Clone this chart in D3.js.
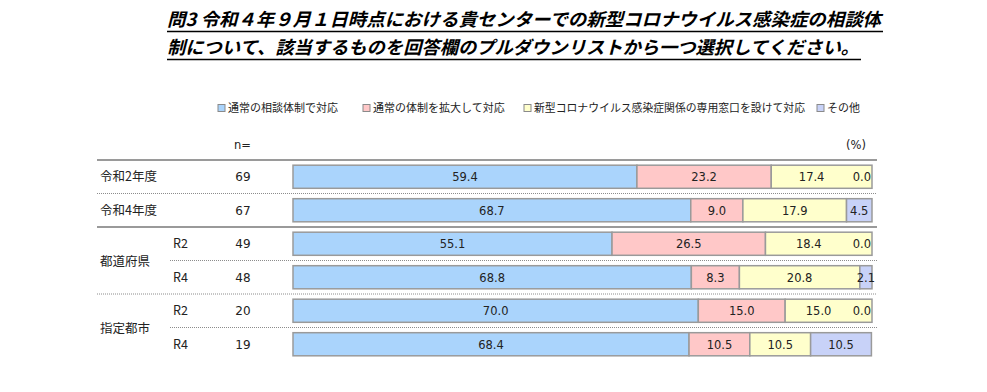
<!DOCTYPE html>
<html><head><meta charset="utf-8">
<script src="https://cdn.jsdelivr.net/npm/d3@7/dist/d3.min.js"></script>
<style>
html,body{margin:0;padding:0;background:#fff;}
svg{display:block;}
</style></head>
<body>
<svg id="chart" width="987" height="392"></svg>
<script>
// ---- data ----
const titleLines = [
  "問3 令和４年９月１日時点における貴センターでの新型コロナウイルス感染症の相談体",
  "制について、該当するものを回答欄のプルダウンリストから一つ選択してください。"
];
const seriesNames = ["通常の相談体制で対応", "通常の体制を拡大して対応", "新型コロナウイルス感染症関係の専用窓口を設けて対応", "その他"];
const rowLabels = ["令和2年度", "令和4年度", "R2", "R4", "R2", "R4"];
const groupLabels = ["都道府県", "指定都市"];
const nValues = [69, 67, 49, 48, 20, 19];
const sNormal = [59.4, 68.7, 55.1, 68.8, 70.0, 68.4];
const sExpand = [23.2, 9.0, 26.5, 8.3, 15.0, 10.5];
const sDedicated = [17.4, 17.9, 18.4, 20.8, 15.0, 10.5];
const sOther = [0.0, 4.5, 0.0, 2.1, 0.0, 10.5];
const colors = ["#aad4fc", "#ffc8c8", "#ffffcc", "#c8d2f8"];

// ---- chart ----
const svg = d3.select("#chart");
const jp = "'Noto Sans CJK JP','Noto Sans',sans-serif";
const num = "'DejaVu Sans','Noto Sans',sans-serif";

// title
const tx0 = 167;
const title = svg.append("g");
title.selectAll("text").data(titleLines).join("text")
  .attr("x", tx0).attr("y", (d, i) => 26 + i * 28)
  .attr("textLength", (d, i) => i === 0 ? 714 : 692)
  .attr("lengthAdjust", "spacingAndGlyphs")
  .style("font-family", jp).style("font-weight", "bold").style("font-style", "italic")
  .style("font-size", "18px").attr("fill", "#000")
  .text(d => d);
title.selectAll("line").data(titleLines).join("line")
  .attr("x1", tx0).attr("x2", (d, i) => i === 0 ? 883 : 861)
  .attr("y1", (d, i) => 31.5 + i * 28).attr("y2", (d, i) => 31.5 + i * 28)
  .attr("stroke", "#000").attr("stroke-width", 1.3);

// scales
const x = d3.scaleLinear().domain([0, 100]).range([293, 872]);
const y = d3.scaleBand().domain(d3.range(rowLabels.length)).range([160, 361]).paddingInner(0.31).paddingOuter(0.155);
const step = y.step();
const rowTop = i => 160 + i * step;

// legend
const legendX = [218, 363, 524, 817];
const lg = svg.append("g");
seriesNames.forEach((name, i) => {
  lg.append("rect").attr("x", legendX[i]).attr("y", 104.5).attr("width", 7).attr("height", 7)
    .attr("fill", colors[i]).attr("stroke", "#8a8a8a").attr("stroke-width", 1);
  lg.append("text").attr("x", legendX[i] + 10).attr("y", 112)
    .style("font-family", jp).style("font-size", "11px").attr("fill", "#222")
    .attr("textLength", i === 2 ? 271 : null).attr("lengthAdjust", "spacingAndGlyphs")
    .text(name);
});

// header
svg.append("text").attr("x", 234).attr("y", 149).style("font-family", num).style("font-size", "11.5px").attr("fill", "#222").text("n=");
svg.append("text").attr("x", 866).attr("y", 149).attr("text-anchor", "end").style("font-family", num).style("font-size", "11.5px").attr("fill", "#222").text("(%)");

// separators
const seps = [
  {i: 0, x1: 97, dash: null},
  {i: 1, x1: 97, dash: "1,1"},
  {i: 2, x1: 97, dash: null},
  {i: 3, x1: 170, dash: "1,1"},
  {i: 4, x1: 97, dash: "1,1"},
  {i: 5, x1: 170, dash: "1,1"}
];
svg.append("g").selectAll("line").data(seps).join("line")
  .attr("x1", d => d.x1).attr("x2", 877)
  .attr("y1", d => rowTop(d.i)).attr("y2", d => rowTop(d.i))
  .attr("stroke", d => d.dash ? "#8c8c8c" : "#9a9a9a")
  .attr("stroke-width", d => d.dash ? 1 : 2)
  .attr("stroke-dasharray", d => d.dash);

// row labels
const labelsG = svg.append("g").style("font-family", jp).style("font-size", "12.5px").attr("fill", "#222");
rowLabels.forEach((lab, i) => {
  const cy = y(i) + y.bandwidth() / 2 + 4.5;
  labelsG.append("text").attr("x", i < 2 ? 100 : 173).attr("y", cy).text(lab);
  labelsG.append("text").attr("x", 243).attr("y", cy).attr("text-anchor", "middle").style("font-family", num).style("font-size", "12px").text(nValues[i]);
});
groupLabels.forEach((g, k) => {
  const r = 2 + k * 2;
  labelsG.append("text").attr("x", 100).attr("y", rowTop(r + 1) + 5).text(g);
});

// bars
const allSeries = [sNormal, sExpand, sDedicated, sOther];
const rows = rowLabels.map((_, i) => allSeries.map(s => s[i]));
const barsG = svg.append("g");
rows.forEach((vals, i) => {
  let acc = 0;
  const segs = vals.map((v, k) => { const s = {k, v, x0: acc, x1: acc + v}; acc += v; return s; });
  const total = acc;
  barsG.selectAll(null).data(segs.filter(s => s.v > 0)).join("rect")
    .attr("x", s => x(s.x0)).attr("width", s => x(Math.min(s.x1, 100)) - x(s.x0))
    .attr("y", y(i)).attr("height", y.bandwidth())
    .attr("fill", s => colors[s.k]).attr("stroke", "#9a9a9a").attr("stroke-width", 1.5);
  segs.forEach((s, k) => {
    let cx, anchor = "middle";
    if (s.v === 0) { cx = x(100) - 1; anchor = "end"; }
    else {
      cx = (x(s.x0) + x(Math.min(s.x1, 100))) / 2;
      const next = segs[k + 1];
      if (next && next.v === 0) cx -= 10;
    }
    barsG.append("text").attr("x", cx).attr("y", y(i) + y.bandwidth() / 2 + 4.5)
      .attr("text-anchor", anchor)
      .style("font-family", num).style("font-size", "11.5px").attr("fill", "#222")
      .text(s.v.toFixed(1));
  });
});
</script>
</body></html>
